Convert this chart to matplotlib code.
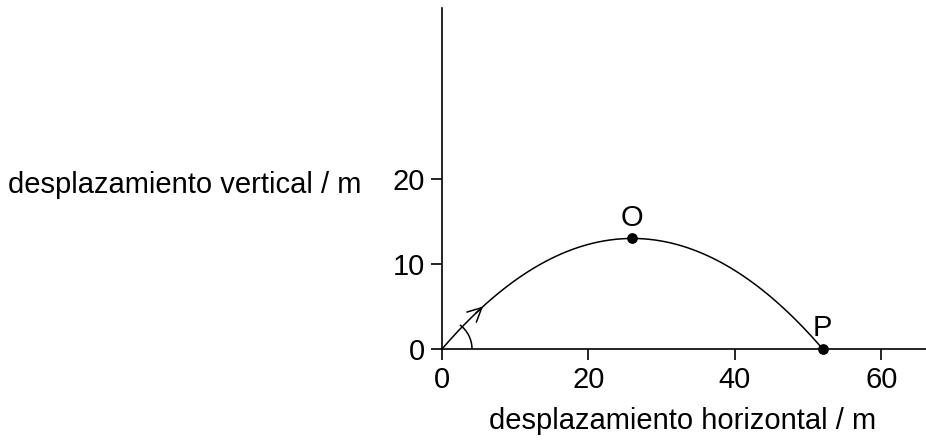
import numpy as np
import matplotlib
matplotlib.use("Agg")
import matplotlib.pyplot as plt
from matplotlib.patches import Arc

plt.rcParams['font.family'] = ['Liberation Sans', 'DejaVu Sans']

# Data
x_ticks = [0, 20, 40, 60]
y_ticks = [0, 10, 20]
x_limits = (0, 66.1)
y_limits = (0, 40.1)
trajectory_x = [0, 26, 52]   # launch, apex O, landing P
trajectory_y = [0, 13, 0]
point_names = ["O", "P"]
point_x = [26, 52]
point_y = [13, 0]
arrow_at_x = 5.6
x_label = "desplazamiento horizontal / m"
y_label = "desplazamiento vertical / m"

FS = 21

fig = plt.figure(figsize=(9.26, 4.44), dpi=100)
ax = fig.add_axes([442/926, 1-349/444, 1-442/926, (349-8)/444])
ax.set_xlim(*x_limits)
ax.set_ylim(*y_limits)

# parabola through the three read points
coef = np.polyfit(trajectory_x, trajectory_y, 2)
xs = np.linspace(trajectory_x[0], trajectory_x[-1], 400)
ys = np.polyval(coef, xs)
ax.plot(xs, ys, color='black', lw=1.1, clip_on=False)

# arrow head on trajectory
ya = np.polyval(coef, arrow_at_x)
xb = arrow_at_x - 1.0
yb = np.polyval(coef, xb)
ax.annotate("", xy=(arrow_at_x, ya), xytext=(xb, yb),
            arrowprops=dict(arrowstyle="->,head_length=1.0,head_width=0.5",
                            color='black', lw=1.1, shrinkA=0, shrinkB=0))

# angle arc at origin
slope0 = np.polyval(np.polyder(coef), 0)
px_x = 926*(1-442/926) / (x_limits[1]-x_limits[0])
px_y = 444*((349-8)/444) / (y_limits[1]-y_limits[0])
ang = np.degrees(np.arctan(slope0*px_y/px_x))
r_px = 30
ax.add_patch(Arc((0, 0), 2*r_px/px_x, 2*r_px/px_y, theta1=0, theta2=ang,
                 color='black', lw=1.1))

ax.scatter(point_x, point_y, s=45, color='black', zorder=5, clip_on=False)
for n, x, y in zip(point_names, point_x, point_y):
    ax.annotate(n, (x, y), xytext=(0, 5), textcoords='offset points',
                ha='center', va='bottom', fontsize=FS)

for s in ['top', 'right']:
    ax.spines[s].set_visible(False)
for s in ['left', 'bottom']:
    ax.spines[s].set_linewidth(1.2)
ax.set_xticks(x_ticks)
ax.set_yticks(y_ticks)
ax.tick_params(direction='out', length=8, width=1.2, labelsize=FS, pad=4)

fig.text(8/926, 1-185/444, y_label, ha='left', va='center', fontsize=FS)
fig.text(683/926, 1-421/444, x_label, ha='center', va='center', fontsize=FS)

fig.savefig("out.png", dpi=100)
